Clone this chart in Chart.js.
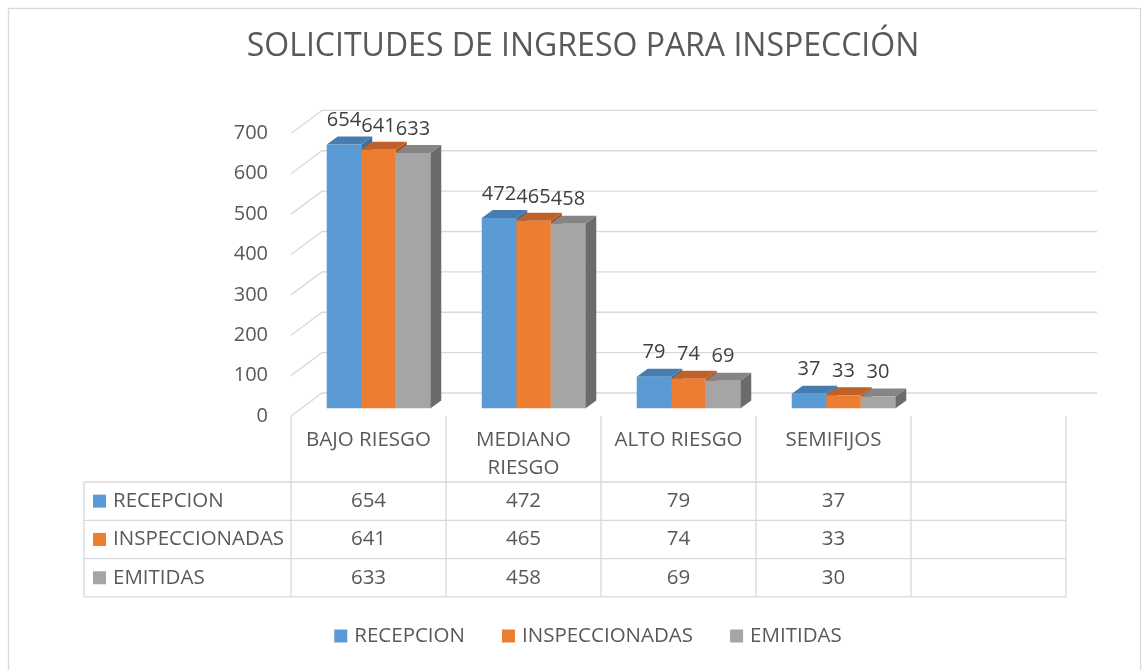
<!DOCTYPE html>
<html>
<head>
<meta charset="utf-8">
<script src="https://cdn.jsdelivr.net/npm/chart.js@4.4.1/dist/chart.umd.min.js"></script>
<style>
  html, body { margin: 0; padding: 0; background: #fff; }
  #wrap { width: 1146px; height: 670px; }
</style>
</head>
<body>
<div id="wrap"><canvas id="chart" width="1146" height="670"></canvas></div>
<script>
const title = "SOLICITUDES DE INGRESO PARA INSPECCIÓN";
const categories = ["BAJO RIESGO", "MEDIANO RIESGO", "ALTO RIESGO", "SEMIFIJOS", ""];
const seriesNames = ["RECEPCION", "INSPECCIONADAS", "EMITIDAS"];
const recepcion = [654, 472, 79, 37, null];
const inspeccionadas = [641, 465, 74, 33, null];
const emitidas = [633, 458, 69, 30, null];
const yTicks = [0, 100, 200, 300, 400, 500, 600, 700];

const frontColors = ["#5b9bd5", "#ed7d31", "#a5a5a5"];
const topColors = ["#477cae", "#bf6129", "#858585"];
const sideColors = ["#3f6f9c", "#a95421", "#6b6b6b"];

const FONT = '"Open Sans", sans-serif';
const GRID = "#d9d9d9";
const TEXT = "#595959";
// 3d offsets, relative to the bar front faces
const FLOOR_DX = 10, FLOOR_DY = 7.4;
const WALL_DX = 21, WALL_DY = -15.6;
const BAR_DX = 11, BAR_DY = -8;

function wrap(ctx, text, maxW) {
  const words = text.split(" ");
  const lines = [];
  let cur = "";
  words.forEach(w => {
    const t = cur ? cur + " " + w : w;
    if (cur && ctx.measureText(t).width > maxW) { lines.push(cur); cur = w; }
    else cur = t;
  });
  if (cur) lines.push(cur);
  return lines;
}

const office3d = {
  id: "office3d",
  beforeDatasetsDraw(chart) {
    const { ctx, chartArea, scales: { x, y } } = chart;
    ctx.save();
    ctx.strokeStyle = GRID;
    ctx.lineWidth = 1.3;
    ctx.strokeRect(8.5, 8.5, 1132, 680);

    ctx.fillStyle = TEXT;
    ctx.font = "32px " + FONT;
    ctx.textAlign = "center";
    ctx.textBaseline = "middle";
    ctx.fillText(title, 583, 47);

    // gridlines: front floor edge -> back wall
    ctx.font = "20px " + FONT;
    ctx.textAlign = "right";
    yTicks.forEach(v => {
      const yb = y.getPixelForValue(v);
      ctx.beginPath();
      ctx.moveTo(chartArea.left - FLOOR_DX, yb + FLOOR_DY);
      ctx.lineTo(chartArea.left + WALL_DX, yb + WALL_DY);
      ctx.lineTo(chartArea.right + WALL_DX, yb + WALL_DY);
      ctx.stroke();
      ctx.fillText(String(v), 268, yb + FLOOR_DY);
    });

    // bar sides and tops
    const metas = [0, 1, 2].map(d => chart.getDatasetMeta(d));
    categories.forEach((c, i) => {
      metas.forEach((meta, d) => {
        const bar = meta.data[i];
        if (!bar || chart.data.datasets[d].data[i] == null) return;
        const p = bar.getProps(["x", "y", "base", "width"], true);
        const l = p.x - p.width / 2, r = p.x + p.width / 2;
        ctx.fillStyle = sideColors[d];
        ctx.beginPath();
        ctx.moveTo(r, p.y);
        ctx.lineTo(r + BAR_DX, p.y + BAR_DY);
        ctx.lineTo(r + BAR_DX, p.base + BAR_DY);
        ctx.lineTo(r, p.base);
        ctx.closePath();
        ctx.fill();
        ctx.fillStyle = topColors[d];
        ctx.beginPath();
        ctx.moveTo(l, p.y);
        ctx.lineTo(l + BAR_DX, p.y + BAR_DY);
        ctx.lineTo(r + BAR_DX, p.y + BAR_DY);
        ctx.lineTo(r, p.y);
        ctx.closePath();
        ctx.fill();
      });
    });
    ctx.restore();
  },
  afterDatasetsDraw(chart) {
    const { ctx } = chart;
    ctx.save();
    ctx.fillStyle = "#404040";
    ctx.font = "20px " + FONT;
    ctx.textAlign = "center";
    ctx.textBaseline = "middle";
    chart.data.datasets.forEach((ds, d) => {
      chart.getDatasetMeta(d).data.forEach((bar, i) => {
        if (ds.data[i] == null) return;
        ctx.fillText(String(ds.data[i]), bar.x, bar.y - 24);
      });
    });
    ctx.restore();
  },
  afterDraw(chart) {
    const { ctx, chartArea, scales: { y } } = chart;
    ctx.save();
    const top0 = y.getPixelForValue(0) + FLOOR_DY;
    const headH = 66, rowH = 38.3;
    const colW = (chartArea.right - chartArea.left) / categories.length;
    const xl = chartArea.left - FLOOR_DX;
    const xr = xl + colW * categories.length;
    const tLeft = 84;
    const bottom = top0 + headH + rowH * seriesNames.length;

    ctx.strokeStyle = GRID;
    ctx.lineWidth = 1.3;
    ctx.beginPath();
    for (let k = 0; k <= seriesNames.length; k++) {
      const yy = top0 + headH + k * rowH;
      ctx.moveTo(tLeft, yy);
      ctx.lineTo(xr, yy);
    }
    for (let i = 0; i <= categories.length; i++) {
      ctx.moveTo(xl + i * colW, top0);
      ctx.lineTo(xl + i * colW, bottom);
    }
    ctx.moveTo(tLeft, top0 + headH);
    ctx.lineTo(tLeft, bottom);
    ctx.stroke();

    ctx.fillStyle = TEXT;
    ctx.font = "20.5px " + FONT;
    ctx.textAlign = "center";
    ctx.textBaseline = "middle";
    categories.forEach((c, i) => {
      const cx = xl + (i + 0.5) * colW;
      wrap(ctx, c, colW - 10).forEach((ln, k) => ctx.fillText(ln, cx, top0 + 24 + k * 28));
    });

    const series = chart.data.datasets;
    series.forEach((ds, d) => {
      const cy = top0 + headH + (d + 0.5) * rowH;
      ctx.fillStyle = frontColors[d];
      ctx.fillRect(93, cy - 6.5, 13, 13);
      ctx.fillStyle = TEXT;
      ctx.textAlign = "left";
      ctx.fillText(seriesNames[d], 113, cy);
      ctx.textAlign = "center";
      ds.data.forEach((v, i) => {
        if (v == null) return;
        ctx.fillText(String(v), xl + (i + 0.5) * colW, cy);
      });
    });

    // legend
    const gapBox = 7, gapItem = 37, box = 13;
    const widths = seriesNames.map(n => box + gapBox + ctx.measureText(n).width);
    const total = widths.reduce((a, b) => a + b, 0) + gapItem * (widths.length - 1);
    let lx = 588 - total / 2;
    const ly = 636;
    ctx.textAlign = "left";
    seriesNames.forEach((n, d) => {
      ctx.fillStyle = frontColors[d];
      ctx.fillRect(lx, ly - 6.5, box, box);
      ctx.fillStyle = TEXT;
      ctx.fillText(n, lx + box + gapBox, ly);
      lx += widths[d] + gapItem;
    });
    ctx.restore();
  }
};

new Chart(document.getElementById("chart"), {
  type: "bar",
  data: {
    labels: categories,
    datasets: [
      { label: seriesNames[0], data: recepcion, backgroundColor: frontColors[0] },
      { label: seriesNames[1], data: inspeccionadas, backgroundColor: frontColors[1] },
      { label: seriesNames[2], data: emitidas, backgroundColor: frontColors[2] },
    ],
  },
  options: {
    responsive: false,
    animation: false,
    events: [],
    layout: { padding: { left: 301, right: 70, top: 126, bottom: 261.4 } },
    datasets: { bar: { categoryPercentage: 0.668, barPercentage: 1, borderWidth: 0 } },
    scales: {
      x: { display: false },
      y: { display: false, min: 0, max: 700 },
    },
    plugins: { legend: { display: false }, title: { display: false }, tooltip: { enabled: false } },
  },
  plugins: [office3d],
});
</script>
</body>
</html>
